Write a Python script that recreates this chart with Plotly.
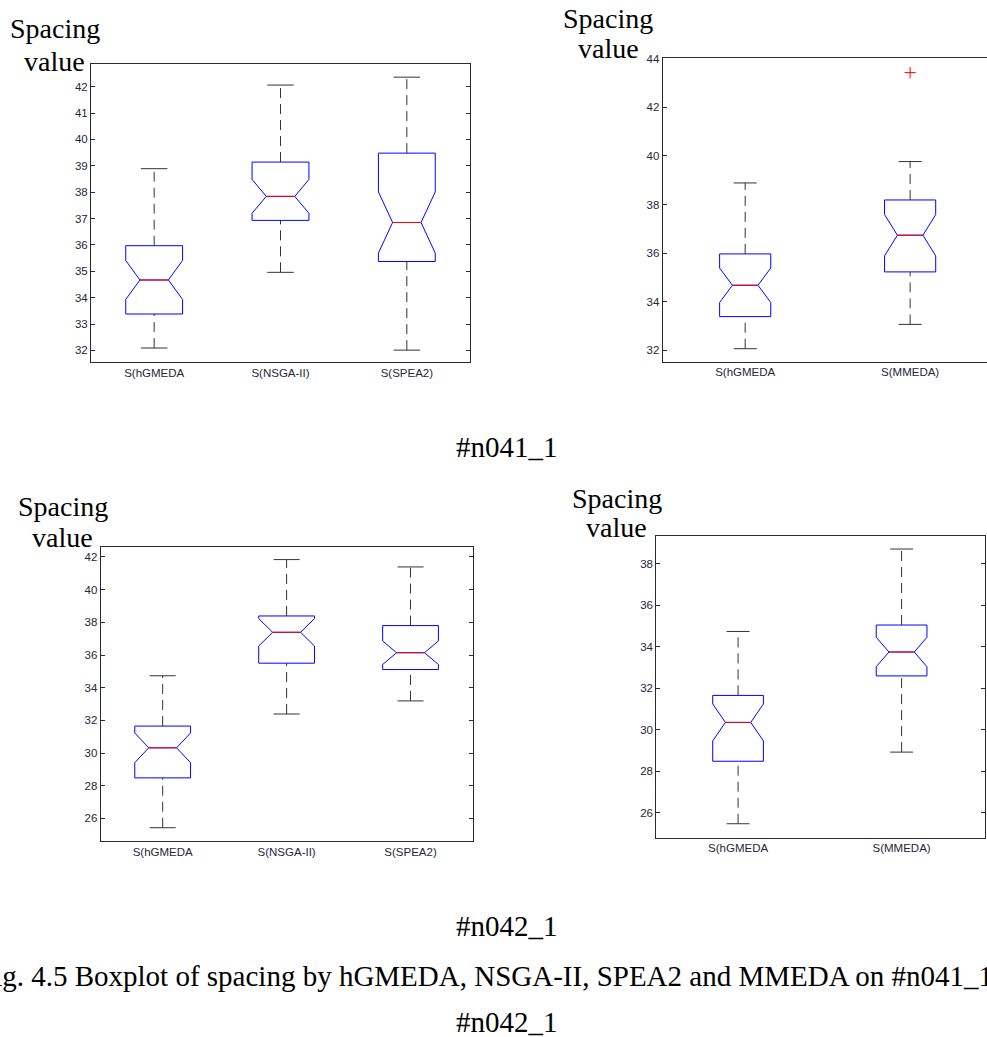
import plotly.graph_objects as go

W, H = 987, 1037

# ---------------- data ----------------
# Panel 1: #n041_1, three algorithms
p1_categories = ["S(hGMEDA", "S(NSGA-II)", "S(SPEA2)"]
p1_lower = [32.09, 34.96, 32.01]
p1_q1 = [33.38, 36.93, 35.37]
p1_median = [34.67, 37.84, 36.85]
p1_q3 = [35.97, 39.14, 39.48]
p1_upper = [38.89, 42.06, 42.36]
p1_notch = [0.74, 0.64, 1.16]
p1_outliers = [[], [], []]

# Panel 2: #n041_1, hGMEDA vs MMEDA
p2_categories = ["S(hGMEDA", "S(MMEDA)"]
p2_lower = [32.07, 33.07]
p2_q1 = [33.39, 35.23]
p2_median = [34.68, 36.74]
p2_q3 = [35.97, 38.19]
p2_upper = [38.89, 39.77]
p2_notch = [0.71, 0.85]
p2_outliers = [[], [43.43]]

# Panel 3: #n042_1, three algorithms
p3_categories = ["S(hGMEDA", "S(NSGA-II)", "S(SPEA2)"]
p3_lower = [25.43, 32.39, 33.19]
p3_q1 = [28.48, 35.50, 35.11]
p3_median = [30.32, 37.39, 36.14]
p3_q3 = [31.65, 38.39, 37.80]
p3_upper = [34.73, 41.84, 41.39]
p3_notch = [0.91, 0.84, 0.72]
p3_outliers = [[], [], []]

# Panel 4: #n042_1, hGMEDA vs MMEDA
p4_categories = ["S(hGMEDA", "S(MMEDA)"]
p4_lower = [25.47, 28.92]
p4_q1 = [28.48, 32.59]
p4_median = [30.35, 33.74]
p4_q3 = [31.65, 35.04]
p4_upper = [34.73, 38.70]
p4_notch = [0.89, 0.71]
p4_outliers = [[], []]

y_label_lines = ["Spacing", "value"]
caption_lines = ["#n041_1", "#n042_1",
                 "Fig. 4.5 Boxplot of spacing by hGMEDA, NSGA-II, SPEA2 and MMEDA on #n041_1 and",
                 "#n042_1"]

# ---------------- layout / style config ----------------
panels = [
    dict(cats=p1_categories, lo=p1_lower, q1=p1_q1, med=p1_median, q3=p1_q3, up=p1_upper,
         notch=p1_notch, out=p1_outliers,
         xpx=(91, 470), ypx=(59, 359), yrange=[31.55, 42.87], dtick=1, xmax=3.5,
         box_w=0.45, cap_w=0.21, mirror_y="ticks",
         lab_x=54.5, lab_y=(23.8, 56.5)),
    dict(cats=p2_categories, lo=p2_lower, q1=p2_q1, med=p2_median, q3=p2_q3, up=p2_upper,
         notch=p2_notch, out=p2_outliers,
         xpx=(662.7, 987), ypx=(53.3, 358.3), yrange=[31.54, 44.03], dtick=2, xmax=2.466,
         box_w=0.31, cap_w=0.14, mirror_y=False,
         lab_x=608, lab_y=(13.8, 43.8)),
    dict(cats=p3_categories, lo=p3_lower, q1=p3_q1, med=p3_median, q3=p3_q3, up=p3_upper,
         notch=p3_notch, out=p3_outliers,
         xpx=(100.7, 472.5), ypx=(544.3, 840), yrange=[24.62, 42.63], dtick=2, xmax=3.5,
         box_w=0.45, cap_w=0.21, mirror_y="ticks",
         lab_x=62.5, lab_y=(503.8, 535.5)),
    dict(cats=p4_categories, lo=p4_lower, q1=p4_q1, med=p4_median, q3=p4_q3, up=p4_upper,
         notch=p4_notch, out=p4_outliers,
         xpx=(656.3, 985), ypx=(533.3, 836.7), yrange=[24.8, 39.34], dtick=2, xmax=2.51,
         box_w=0.31, cap_w=0.14, mirror_y="ticks",
         lab_x=616.5, lab_y=(495.5, 524.8)),
]

BLUE = "#0000ff"
RED = "#ff0000"
AXIS_COLOR = "#2b2b2b"
TICK_FONT = dict(family="Liberation Sans, Arial, sans-serif", size=11.5, color="#26263a")
SERIF = dict(family="Liberation Serif, Times New Roman, serif", size=28, color="black")
CAPTION = dict(family="Liberation Serif, Times New Roman, serif", size=29, color="black")

fig = go.Figure()
annotations = []
layout_axes = {}

for i, p in enumerate(panels, start=1):
    xa = "x" if i == 1 else f"x{i}"
    ya = "y" if i == 1 else f"y{i}"
    pos = list(range(1, len(p["cats"]) + 1))

    # notched boxes (whiskers drawn separately so they can be dashed black)
    fig.add_trace(go.Box(
        x=pos, q1=p["q1"], median=p["med"], q3=p["q3"],
        lowerfence=p["q1"], upperfence=p["q3"], notchspan=p["notch"],
        notched=True, notchwidth=0.25, width=p["box_w"], whiskerwidth=0,
        line=dict(color=BLUE, width=1), fillcolor="rgba(0,0,0,0)",
        boxpoints=False, showlegend=False, hoverinfo="skip",
        xaxis=xa, yaxis=ya,
    ))

    wx, wy, cx, cy, mx, my = [], [], [], [], [], []
    for k, xpos in enumerate(pos):
        # dashed whiskers
        wx += [xpos, xpos, None, xpos, xpos, None]
        wy += [p["q3"][k], p["up"][k], None, p["lo"][k], p["q1"][k], None]
        # caps
        hc = p["cap_w"] / 2
        cx += [xpos - hc, xpos + hc, None, xpos - hc, xpos + hc, None]
        cy += [p["up"][k], p["up"][k], None, p["lo"][k], p["lo"][k], None]
        # red median across notch
        hm = p["box_w"] * 0.25
        mx += [xpos - hm, xpos + hm, None]
        my += [p["med"][k], p["med"][k], None]

    fig.add_trace(go.Scatter(x=wx, y=wy, mode="lines", line=dict(color="#333333", width=1, dash="10px,6px"),
                             showlegend=False, hoverinfo="skip", xaxis=xa, yaxis=ya))
    fig.add_trace(go.Scatter(x=cx, y=cy, mode="lines", line=dict(color="#333333", width=1),
                             showlegend=False, hoverinfo="skip", xaxis=xa, yaxis=ya))
    fig.add_trace(go.Scatter(x=mx, y=my, mode="lines", line=dict(color=RED, width=1),
                             showlegend=False, hoverinfo="skip", xaxis=xa, yaxis=ya))

    ox, oy = [], []
    for k, xpos in enumerate(pos):
        for v in p["out"][k]:
            ox.append(xpos)
            oy.append(v)
    if ox:
        fig.add_trace(go.Scatter(x=ox, y=oy, mode="markers",
                                 marker=dict(symbol="cross-thin", size=8, line=dict(color=RED, width=1)),
                                 showlegend=False, hoverinfo="skip", xaxis=xa, yaxis=ya))

    x0, x1 = p["xpx"]
    y0, y1 = p["ypx"]
    kx = "xaxis" if i == 1 else f"xaxis{i}"
    ky = "yaxis" if i == 1 else f"yaxis{i}"
    layout_axes[kx] = dict(
        domain=[x0 / W, x1 / W], range=[0.5, p["xmax"]], anchor=ya,
        tickmode="array", tickvals=pos, ticktext=p["cats"], ticks="",
        showline=True, linecolor=AXIS_COLOR, linewidth=1, mirror=True,
        showgrid=False, zeroline=False, tickfont=TICK_FONT, fixedrange=True,
    )
    layout_axes[ky] = dict(
        domain=[1 - y1 / H, 1 - y0 / H], range=p["yrange"], anchor=xa,
        tickmode="linear", tick0=0, dtick=p["dtick"], ticks="inside", ticklen=4,
        tickcolor=AXIS_COLOR, showline=True, linecolor=AXIS_COLOR, linewidth=1,
        mirror=p["mirror_y"], showgrid=False, zeroline=False, tickfont=TICK_FONT,
        fixedrange=True,
    )

    for line_text, ly in zip(y_label_lines, p["lab_y"]):
        annotations.append(dict(
            text=line_text, x=p["lab_x"] / W, y=1 - ly / H, xref="paper", yref="paper",
            xanchor="center", yanchor="middle", showarrow=False, font=SERIF,
        ))

caption_y = [444, 925, 976, 1022]
caption_x = [507, 507, 511, 507]
for t, cxv, cyv in zip(caption_lines, caption_x, caption_y):
    annotations.append(dict(
        text=t, x=cxv / W, y=1 - cyv / H, xref="paper", yref="paper",
        xanchor="center", yanchor="middle", showarrow=False, font=CAPTION,
    ))

fig.update_layout(
    width=W, height=H, margin=dict(l=0, r=0, t=0, b=0),
    paper_bgcolor="white", plot_bgcolor="white",
    showlegend=False, annotations=annotations, **layout_axes,
)

fig.write_html(
    "out.html",
    config={"displayModeBar": False},
    post_script=(
        "document.body.style.margin='0';document.body.style.padding='0';"
        "document.body.style.overflow='hidden';"
        "var gd=document.getElementsByClassName('plotly-graph-div')[0];"
        "gd.style.position='absolute';gd.style.top='0px';gd.style.left='0px';"
    ),
)
